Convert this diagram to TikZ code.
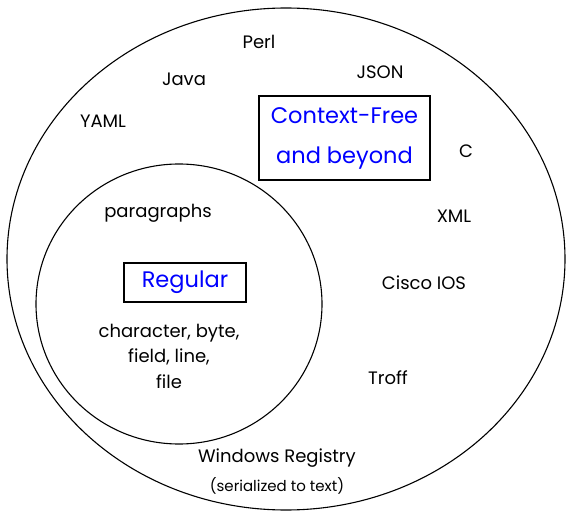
\documentclass[tikz,border=0pt]{standalone}
\usepackage{fontspec}
\setmainfont{Poppins}
\usepackage{xcolor}
\usetikzlibrary{shapes.geometric}

\tikzset{
    lang/.style={font=\fontsize{18}{25.5}\selectfont, align=center},
    classbox/.style={draw, line width=1.1pt, text=blue, font=\fontsize{22.5}{40}\selectfont, align=center, inner sep=2pt},
    region/.style={draw, ellipse, line width=1.1pt, inner sep=0pt}
}

\begin{document}
\begin{tikzpicture}[x=1pt,y=-1pt]
        \useasboundingbox (0,0) rectangle (566,511);

        % outer region
        \node [region,
            minimum width=558pt,
            minimum height=502pt,
        ] (outer) at (286,259) {};

        % inner region
        \node [region,
            minimum width=286pt,
            minimum height=280pt,
        ] (inner) at (179,304) {};

        % class boxes
        \node [classbox, minimum width=171pt, minimum height=84pt] (cfg) at (344.5,138) {Context-Free\\and beyond};
        \node [classbox, minimum width=122pt, minimum height=39pt] (regular) at (185,282.5) {Regular};

        % languages
        \node [lang] (perl) at (259,42) {Perl};
        \node [lang] (java) at (184,79) {Java};
        \node [lang] (json) at (380,72) {JSON};
        \node [lang] (yaml) at (103,121) {YAML};
        \node [lang] (clang) at (466,151) {C};
        \node [lang] (xml) at (454,216) {XML};
        \node [lang] (cisco) at (424,283) {Cisco IOS};
        \node [lang] (troff) at (388,378) {Troff};
        \node [lang] (paragraphs) at (158,213) {paragraphs};
        \node [lang] (units) at (169,356) {character, byte,\\field, line,\\file};
        \node [lang] (registry) at (277,458) {Windows Registry};
        \node [lang, font=\fontsize{15}{18}\selectfont] (serialized) at (277,486) {(serialized to text)};
\end{tikzpicture}
\end{document}
